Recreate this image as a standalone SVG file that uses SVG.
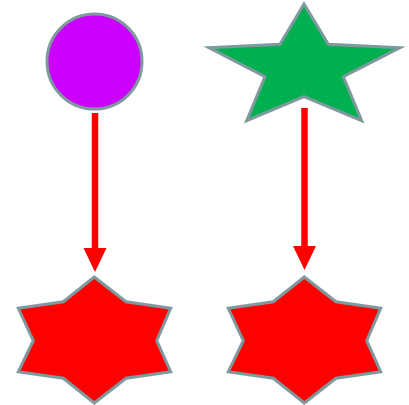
<svg xmlns="http://www.w3.org/2000/svg" width="409" height="405" viewBox="0 0 409 405">
<style>
.shape{stroke:#7f9a9e;stroke-width:3;stroke-linejoin:miter}
.conn{stroke:#ff0000;stroke-width:6.5;fill:none}
</style>
<defs>
<marker id="ah" markerUnits="userSpaceOnUse" markerWidth="24" markerHeight="24" refX="1" refY="11.5" orient="auto" viewBox="0 0 24 23">
<path d="M0,0 L24,11.5 L0,23 z" fill="#ff0000"/>
</marker>
</defs>
<rect width="409" height="405" fill="#ffffff"/>
<g id="connectors">
<line class="conn" x1="95" y1="113" x2="95" y2="249" marker-end="url(#ah)"/>
<line class="conn" x1="304.5" y1="108" x2="304.5" y2="247" marker-end="url(#ah)"/>
</g>
<g id="circle">
<circle class="shape" cx="94.5" cy="61.5" r="47.5" fill="#cc00ff"/>
</g>
<g id="star">
<polygon class="shape" fill="#00b050" points="304,4 280,44.3 209,47.7 265,76.7 246.7,120.7 304,96.7 361.7,120.7 343.3,76.7 400,47.7 328.3,44.3"/>
</g>
<g id="hexagram1">
<polygon class="shape" fill="#ff0000" points="94.3,277 126,301.7 170.7,308.3 156.7,340.7 170.7,371.7 126,378.3 94.3,403 63.3,378.3 18.3,371.7 33.3,340.7 18.3,308.3 63.3,301.7"/>
</g>
<g id="hexagram2">
<polygon class="shape" fill="#ff0000" points="304.3,277 336,301.7 380.7,308.3 366.7,340.7 380.7,371.7 336,378.3 304.3,403 273.3,378.3 228.3,371.7 243.3,340.7 228.3,308.3 273.3,301.7"/>
</g>
</svg>
